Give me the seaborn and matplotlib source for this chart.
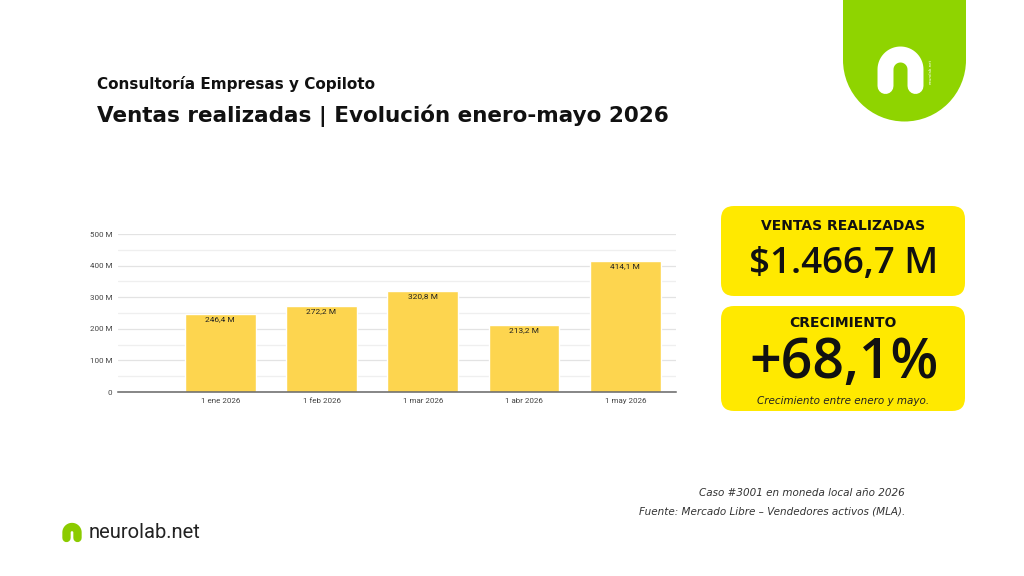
import seaborn as sns
import pandas as pd
import matplotlib.pyplot as plt
import numpy as np
from matplotlib.patches import FancyBboxPatch, Rectangle, Circle
from matplotlib.ticker import MultipleLocator, FuncFormatter


sns.set_theme(style='white')
plt.rcParams['font.family'] = ['DejaVu Sans']

# data
months = ['1 ene 2026', '1 feb 2026', '1 mar 2026', '1 abr 2026', '1 may 2026']
sales = [246.4, 272.2, 320.8, 213.2, 414.1]
bar_labels = ['246,4 M', '272,2 M', '320,8 M', '213,2 M', '414,1 M']
kpi_total = '$1.466,7 M'
kpi_growth = '+68,1%'

df = pd.DataFrame({'mes': months, 'ventas': sales})

fig = plt.figure(figsize=(10.24, 5.76), dpi=100)
fig.patch.set_facecolor('white')

# decoration layer in pixel coordinates
deco = fig.add_axes([0, 0, 1, 1])
deco.set_xlim(0, 1024)
deco.set_ylim(576, 0)
deco.axis('off')

# chart
ax = fig.add_axes([0.1152, 0.3194, 0.5449, 0.2743])
sns.barplot(data=df, x='mes', y='ventas', color='#FDD54F', saturation=1, width=0.7, ax=ax)
ax.set_xlim(-1.01, 4.5)
ax.set_ylim(0, 500)
ax.yaxis.set_major_locator(MultipleLocator(100))
ax.yaxis.set_minor_locator(MultipleLocator(50))
ax.yaxis.set_major_formatter(FuncFormatter(lambda v, p: '0' if v == 0 else f'{int(v)} M'))
ax.grid(axis='y', which='major', color='#e3e3e3', lw=0.9)
ax.grid(axis='y', which='minor', color='#efefef', lw=0.9)
ax.set_axisbelow(True)
for s in ['top', 'right', 'left']:
    ax.spines[s].set_visible(False)
ax.spines['bottom'].set_color('#666666')
ax.spines['bottom'].set_linewidth(1.1)
ax.set_xlabel('')
ax.set_ylabel('')
ax.tick_params(axis='both', length=0, labelsize=5.8, labelcolor='#444444', pad=4)
for lab in ax.get_xticklabels() + ax.get_yticklabels():
    lab.set_fontfamily('Roboto')

for p, lab in zip(ax.patches, bar_labels):
    ax.annotate(lab, (p.get_x() + p.get_width() / 2, p.get_height()), xytext=(0, -1.5),
                textcoords='offset points', ha='center', va='top', fontsize=6,
                color='#222222', family='Roboto')

# titles
deco.text(97, 84, 'Consultoría Empresas y Copiloto', fontsize=11, weight='bold',
          color='#111111', va='center', ha='left')
deco.text(97, 116, 'Ventas realizadas | Evolución enero-mayo 2026', fontsize=15.5, weight='bold',
          color='#111111', va='center', ha='left')

# KPI boxes
yellow = '#FFE900'
deco.add_patch(FancyBboxPatch((721, 206), 244, 90, boxstyle='round,pad=0,rounding_size=13',
                              fc=yellow, ec='none'))
deco.add_patch(FancyBboxPatch((721, 306), 244, 105, boxstyle='round,pad=0,rounding_size=13',
                              fc=yellow, ec='none'))
deco.text(843, 226, 'VENTAS REALIZADAS', fontsize=10, weight='bold', ha='center', va='center', color='#111111')
deco.text(844, 264, kpi_total, fontsize=26.5, weight='semibold', family='Open Sans',
          ha='center', va='center', color='#111111')
deco.text(843, 323, 'CRECIMIENTO', fontsize=10, weight='bold', ha='center', va='center', color='#111111')
deco.text(844, 364, kpi_growth, fontsize=40, weight='semibold', family='Open Sans',
          ha='center', va='center', color='#111111')
deco.text(843, 401, 'Crecimiento entre enero y mayo.', fontsize=7.5, style='italic',
          ha='center', va='center', color='#222222')

# top-right logo
green = '#8FD400'
deco.add_patch(Rectangle((843, -5), 123, 65, fc=green, ec='none'))
deco.add_patch(Circle((904.5, 60), 61.5, fc=green, ec='none'))


def n_glyph(x0, x1, ytop, ybot, lw, color):
    r = (x1 - x0) / 2
    cx = x0 + r
    cy = ytop + r
    t = np.linspace(np.pi, 0, 30)
    xs = np.concatenate([[x0], cx + r * np.cos(t), [x1]])
    ys = np.concatenate([[ybot], cy - r * np.sin(t), [ybot]])
    deco.plot(xs, ys, color=color, lw=lw, solid_capstyle='round', solid_joinstyle='round')


n_glyph(885.5, 915.5, 54.5, 86, 11.5, 'white')
deco.text(931, 71, 'neurolab.net', fontsize=2.8, rotation=90, color='white', ha='center', va='center')

# bottom-left brand
n_glyph(66.5, 77.5, 527, 538, 6, '#8BCB00')
deco.text(89, 532, 'neurolab.net', fontsize=14.5, family='Roboto', color='#222222', ha='left', va='center')

# footnotes
deco.text(905, 493, 'Caso #3001 en moneda local año 2026', fontsize=7.5, style='italic',
          ha='right', va='center', color='#333333')
deco.text(905, 512, 'Fuente: Mercado Libre – Vendedores activos (MLA).', fontsize=7.5, style='italic',
          ha='right', va='center', color='#333333')

fig.savefig('out.png', dpi=100)
